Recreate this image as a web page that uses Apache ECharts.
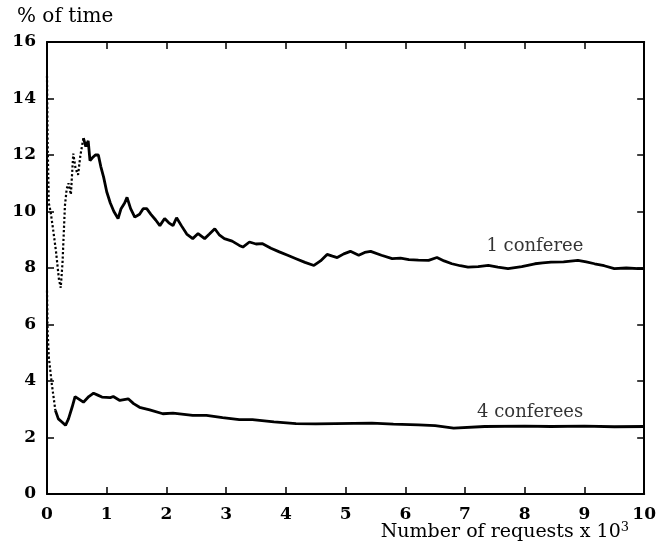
<!DOCTYPE html>
<html>
<head>
<meta charset="utf-8">
<script src="https://cdn.jsdelivr.net/npm/echarts@6/dist/echarts.min.js"></script>
<style>
  html, body { margin: 0; padding: 0; background: #fff; }
  #chart { width: 659px; height: 548px; }
</style>
</head>
<body>
<div id="chart"></div>
<script>
// requests (x 10^3) vs % of time
const oneX = [0, 0.01, 0.03, 0.06, 0.1, 0.15, 0.2, 0.23, 0.26, 0.3, 0.33, 0.36, 0.4, 0.44, 0.48, 0.52, 0.56, 0.61, 0.65, 0.69, 0.72, 0.76, 0.81, 0.86, 0.9, 0.95, 1.0, 1.06, 1.12, 1.19, 1.24, 1.3, 1.34, 1.4, 1.47, 1.55, 1.61, 1.67, 1.74, 1.82, 1.89, 1.97, 2.04, 2.11, 2.17, 2.25, 2.34, 2.44, 2.53, 2.64, 2.72, 2.81, 2.89, 2.97, 3.1, 3.22, 3.28, 3.39, 3.5, 3.61, 3.75, 3.89, 4.03, 4.17, 4.32, 4.47, 4.58, 4.69, 4.78, 4.86, 4.97, 5.08, 5.22, 5.32, 5.42, 5.6, 5.78, 5.92, 6.06, 6.22, 6.39, 6.53, 6.65, 6.78, 6.92, 7.05, 7.22, 7.39, 7.55, 7.72, 7.95, 8.17, 8.3, 8.44, 8.65, 8.89, 9.03, 9.17, 9.33, 9.5, 9.7, 9.9, 10];
const oneY = [14.8, 12.5, 10.3, 10.0, 9.4, 8.6, 7.6, 7.3, 8.2, 10.2, 10.8, 11.0, 10.6, 12.05, 11.5, 11.3, 12.0, 12.6, 12.3, 12.5, 11.8, 11.9, 12.0, 12.0, 11.6, 11.2, 10.7, 10.3, 10.0, 9.75, 10.1, 10.3, 10.5, 10.1, 9.8, 9.9, 10.1, 10.1, 9.9, 9.7, 9.5, 9.75, 9.6, 9.5, 9.78, 9.5, 9.2, 9.04, 9.22, 9.04, 9.2, 9.39, 9.16, 9.04, 8.95, 8.8, 8.74, 8.92, 8.85, 8.86, 8.7, 8.57, 8.45, 8.33, 8.2, 8.09, 8.25, 8.48, 8.42, 8.37, 8.5, 8.59, 8.45, 8.55, 8.59, 8.45, 8.33, 8.35, 8.3, 8.28, 8.27, 8.37, 8.25, 8.15, 8.08, 8.03, 8.05, 8.09, 8.03, 7.98, 8.05, 8.15, 8.18, 8.21, 8.22, 8.27, 8.22, 8.15, 8.08, 7.98, 8.0, 7.98, 7.98];
const oneDotUntil = 0.61;

const fourX = [0, 0.01, 0.03, 0.08, 0.14, 0.19, 0.25, 0.31, 0.36, 0.42, 0.47, 0.54, 0.61, 0.7, 0.78, 0.85, 0.92, 1.06, 1.11, 1.22, 1.36, 1.45, 1.55, 1.72, 1.94, 2.11, 2.44, 2.67, 2.94, 3.22, 3.44, 3.8, 4.17, 4.5, 4.83, 5.44, 5.8, 6.22, 6.5, 6.81, 7.33, 8.0, 8.44, 9.0, 9.5, 10];
const fourY = [7.2, 5.8, 4.85, 3.9, 2.96, 2.66, 2.55, 2.43, 2.66, 3.07, 3.45, 3.35, 3.25, 3.45, 3.57, 3.5, 3.43, 3.41, 3.45, 3.31, 3.37, 3.2, 3.07, 2.98, 2.84, 2.86, 2.78, 2.78, 2.7, 2.63, 2.63, 2.55, 2.49, 2.48, 2.49, 2.51, 2.47, 2.45, 2.42, 2.33, 2.39, 2.4, 2.39, 2.4, 2.38, 2.39];
const fourDotUntil = 0.14;

const curveLabels = ["1 conferee", "4 conferees"];
const labelX = [8.17, 8.09];
const labelY = [8.75, 2.9];

const xTicks = [0, 1, 2, 3, 4, 5, 6, 7, 8, 9, 10];
const yTicks = [0, 2, 4, 6, 8, 10, 12, 14, 16];

const SERIF = "DejaVu Serif";

function pairs(xs, ys, from, to) {
  const out = [];
  for (let i = 0; i < xs.length; i++) {
    if (xs[i] >= from && xs[i] <= to) {
      out.push([xs[i], ys[i]]);
    }
  }
  return out;
}

function lineSeries(data, dotted) {
  return {
    type: "line",
    data: data,
    symbol: "none",
    smooth: false,
    silent: true,
    lineStyle: { color: "#000", width: dotted ? 2.2 : 2.8, type: dotted ? "dotted" : "solid" },
    z: 3,
  };
}

const axisCommon = {
  type: "value",
  axisLine: { show: true, onZero: false, lineStyle: { color: "#000", width: 2 } },
  axisTick: { show: true, inside: true, length: 7, lineStyle: { color: "#000", width: 1.5 } },
  splitLine: { show: false },
};

const tickFont = { color: "#000", fontFamily: SERIF, fontSize: 17, fontWeight: "bold" };

const chart = echarts.init(document.getElementById("chart"));
chart.setOption({
  animation: false,
  backgroundColor: "#fff",
  grid: { left: 47, right: 12, top: 42, bottom: 54 },
  xAxis: [
    Object.assign({}, axisCommon, {
      min: xTicks[0], max: xTicks[xTicks.length - 1], interval: 1,
      axisLabel: Object.assign({ margin: 12 }, tickFont),
    }),
    Object.assign({}, axisCommon, {
      position: "top",
      min: xTicks[0], max: xTicks[xTicks.length - 1], interval: 1,
      axisLabel: { show: false },
    }),
  ],
  yAxis: [
    Object.assign({}, axisCommon, {
      min: yTicks[0], max: yTicks[yTicks.length - 1], interval: 2,
      axisLabel: Object.assign({ margin: 11 }, tickFont),
    }),
    Object.assign({}, axisCommon, {
      position: "right",
      min: yTicks[0], max: yTicks[yTicks.length - 1], interval: 2,
      axisLabel: { show: false },
    }),
  ],
  series: [
    lineSeries(pairs(oneX, oneY, 0, oneDotUntil), true),
    lineSeries(pairs(oneX, oneY, oneDotUntil, 10), false),
    lineSeries(pairs(fourX, fourY, 0, fourDotUntil), true),
    lineSeries(pairs(fourX, fourY, fourDotUntil, 10), false),
    {
      type: "scatter",
      symbolSize: 0,
      silent: true,
      data: curveLabels.map((name, i) => ({ value: [labelX[i], labelY[i]], name: name })),
      label: {
        show: true,
        position: "inside",
        formatter: (p) => p.name,
        color: "#000",
        fontFamily: SERIF,
        fontSize: 18,
      },
    },
  ],
  graphic: [
    {
      type: "text",
      left: 17,
      top: 7,
      style: { text: "% of time", fill: "#000", font: `20px "${SERIF}"` },
    },
    {
      type: "text",
      right: 30,
      top: 521,
      style: {
        text: "Number of requests x 10{sup|3}",
        fill: "#000",
        font: `19px "${SERIF}"`,
        rich: {
          sup: { fontFamily: SERIF, fontSize: 13, verticalAlign: "top", padding: [0, 0, 10, 0] },
        },
      },
    },
  ],
});
</script>
</body>
</html>
